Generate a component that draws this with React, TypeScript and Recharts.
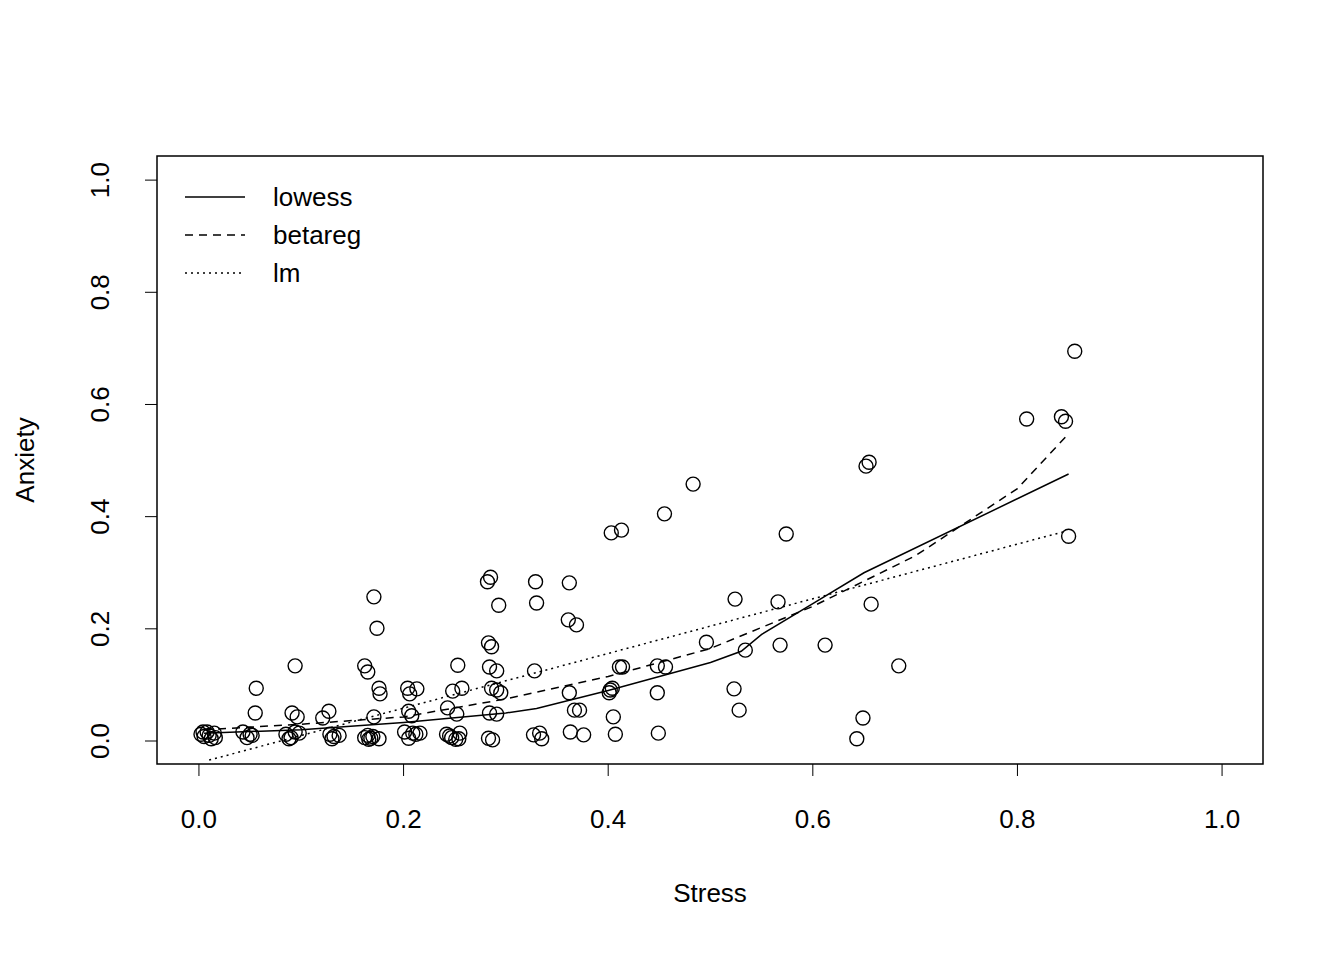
import { FC } from 'react';
import { ComposedChart, Scatter, Line, XAxis, YAxis, ReferenceArea, Label } from 'recharts';

// observed points (Stress, Anxiety)
const stress = [
  0.856, 0.809, 0.843, 0.847, 0.850, 0.652, 0.655, 0.657, 0.684, 0.612, 0.574, 0.566, 0.568, 0.649, 0.643,
  0.524, 0.496, 0.534, 0.523, 0.528, 0.483, 0.455, 0.403, 0.413, 0.448, 0.456, 0.411, 0.414, 0.448, 0.449,
  0.402, 0.404, 0.401, 0.405, 0.407, 0.362, 0.361, 0.369, 0.362, 0.367, 0.372, 0.363, 0.376,
  0.329, 0.330, 0.328, 0.327, 0.333, 0.335, 0.285, 0.282, 0.293, 0.283, 0.286, 0.284, 0.291, 0.286, 0.291,
  0.295, 0.284, 0.291, 0.283, 0.287, 0.253, 0.257, 0.248, 0.243, 0.252, 0.242, 0.247, 0.251, 0.255, 0.254, 0.245,
  0.171, 0.174, 0.162, 0.165, 0.176, 0.177, 0.171, 0.176, 0.162, 0.165, 0.168, 0.170, 0.166,
  0.204, 0.206, 0.213, 0.205, 0.208, 0.201, 0.205, 0.209, 0.212, 0.216,
  0.094, 0.056, 0.055, 0.091, 0.096, 0.121, 0.127, 0.128, 0.132, 0.137, 0.130,
  0.085, 0.090, 0.094, 0.098, 0.088, 0.043, 0.047, 0.050, 0.052,
  0.002, 0.005, 0.008, 0.012, 0.015, 0.016, 0.010, 0.004,
];
const anxiety = [
  0.695, 0.574, 0.578, 0.570, 0.365, 0.490, 0.497, 0.244, 0.134, 0.171, 0.369, 0.248, 0.171, 0.041, 0.004,
  0.253, 0.176, 0.162, 0.093, 0.055, 0.458, 0.405, 0.371, 0.376, 0.134, 0.132, 0.132, 0.132, 0.086, 0.014,
  0.091, 0.094, 0.086, 0.043, 0.012, 0.282, 0.216, 0.207, 0.086, 0.055, 0.055, 0.016, 0.011,
  0.284, 0.246, 0.125, 0.011, 0.014, 0.004, 0.292, 0.284, 0.242, 0.175, 0.168, 0.132, 0.125, 0.094, 0.091,
  0.086, 0.050, 0.048, 0.005, 0.002, 0.135, 0.094, 0.089, 0.059, 0.048, 0.012, 0.006, 0.003, 0.014, 0.004, 0.009,
  0.257, 0.201, 0.134, 0.123, 0.094, 0.084, 0.043, 0.004, 0.006, 0.010, 0.005, 0.008, 0.003,
  0.094, 0.084, 0.093, 0.053, 0.045, 0.016, 0.005, 0.014, 0.012, 0.014,
  0.134, 0.094, 0.050, 0.050, 0.043, 0.041, 0.053, 0.012, 0.008, 0.010, 0.004,
  0.012, 0.006, 0.016, 0.014, 0.004, 0.016, 0.006, 0.012, 0.010,
  0.012, 0.008, 0.016, 0.004, 0.014, 0.006, 0.010, 0.016,
];

const lowessX = [0.005, 0.1, 0.2, 0.3, 0.33, 0.4, 0.5, 0.53, 0.55, 0.6, 0.65, 0.85];
const lowessY = [0.014, 0.02, 0.033, 0.05, 0.058, 0.09, 0.14, 0.16, 0.19, 0.245, 0.3, 0.476];
const betaX = [0.005, 0.1, 0.2, 0.3, 0.4, 0.5, 0.6, 0.7, 0.8, 0.847];
const betaY = [0.02, 0.03, 0.043, 0.075, 0.115, 0.165, 0.24, 0.33, 0.45, 0.542];
const lmX = [0.01, 0.847];
const lmY = [-0.034, 0.374];

const ticks = [0, 0.2, 0.4, 0.6, 0.8, 1.0];

const points = stress.map((x, i) => ({ x, y: anxiety[i] }));
const pair = (xs: number[], ys: number[]) => xs.map((x, i) => ({ x, y: ys[i] }));

const FONT = 'Liberation Sans, Arial, sans-serif';

const YTick: FC<any> = ({ y, payload }) => (
  <text x={109} y={y} transform={`rotate(-90, 109, ${y})`} textAnchor="middle" fontSize={26} fill="#000" fontFamily={FONT}>
    {payload.value.toFixed(1)}
  </text>
);

const legendItems = [
  { name: 'lowess', dash: undefined },
  { name: 'betareg', dash: '8 6' },
  { name: 'lm', dash: '2 4' },
];

const LegendBox = () => (
  <svg width={240} height={120} style={{ position: 'absolute', left: 175, top: 175 }}>
    {legendItems.map((it, i) => (
      <g key={it.name}>
        <line x1={10} x2={70} y1={22 + i * 38} y2={22 + i * 38} stroke="#000" strokeWidth={1.5} strokeDasharray={it.dash} />
        <text x={98} y={31 + i * 38} fontSize={26} fontFamily={FONT}>{it.name}</text>
      </g>
    ))}
  </svg>
);

const App: FC = () => (
  <div style={{ position: 'fixed', left: 0, top: 0, background: '#fff' }}>
    <ComposedChart width={1344} height={960} margin={{ top: 156, right: 81, bottom: 56, left: 17 }}>
      <XAxis type="number" dataKey="x" domain={[-0.041, 1.04]} ticks={ticks} height={140} axisLine={false}
        tickSize={12} tickMargin={34} tickLine={{ stroke: '#000' }} allowDataOverflow
        tickFormatter={(v: number) => v.toFixed(1)} tick={{ fill: '#000', fontSize: 26, fontFamily: FONT }}>
        <Label value="Stress" position="insideBottom" offset={2} style={{ fill: '#000', fontSize: 26, fontFamily: FONT }} />
      </XAxis>
      <YAxis type="number" dataKey="y" domain={[-0.041, 1.043]} ticks={ticks} width={140} axisLine={false}
        tickSize={12} tickLine={{ stroke: '#000' }} allowDataOverflow tick={<YTick />}>
        <Label value="Anxiety" angle={-90} position="insideLeft" offset={8} style={{ fill: '#000', fontSize: 26, fontFamily: FONT, textAnchor: 'middle' }} />
      </YAxis>
      <ReferenceArea x1={-0.041} x2={1.04} y1={-0.041} y2={1.043} fill="none" stroke="#000" strokeWidth={1.5} ifOverflow="visible" />
      <Scatter data={points} isAnimationActive={false}
        shape={(p: any) => <circle cx={p.cx} cy={p.cy} r={7} fill="none" stroke="#000" strokeWidth={1.4} />} />
      <Line data={pair(lowessX, lowessY)} dataKey="y" stroke="#000" strokeWidth={1.5} dot={false} type="linear" isAnimationActive={false} />
      <Line data={pair(betaX, betaY)} dataKey="y" stroke="#000" strokeWidth={1.5} strokeDasharray="8 6" dot={false} type="linear" isAnimationActive={false} />
      <Line data={pair(lmX, lmY)} dataKey="y" stroke="#000" strokeWidth={1.5} strokeDasharray="2 4" dot={false} type="linear" isAnimationActive={false} />
    </ComposedChart>
    <LegendBox />
  </div>
);

export default App;
